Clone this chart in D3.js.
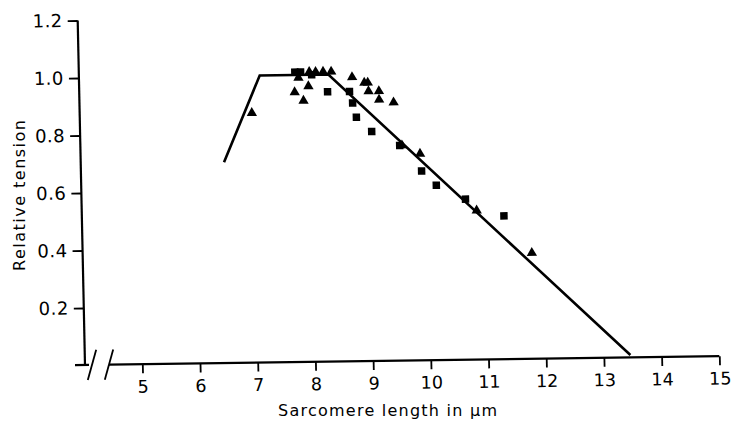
<!DOCTYPE html>
<html>
<head>
<meta charset="utf-8">
<script src="https://cdn.jsdelivr.net/npm/d3@7"></script>
<style>
  html, body { margin: 0; padding: 0; background: #fff; }
  svg { display: block; }
  text { font-family: "DejaVu Sans", "Open Sans", sans-serif; fill: #000; }
</style>
</head>
<body>
<svg id="chart" width="732" height="422"></svg>
<script>
// ---- data ----
const xTicks = [5, 6, 7, 8, 9, 10, 11, 12, 13, 14, 15];
const yTicks = [0.2, 0.4, 0.6, 0.8, 1.0, 1.2];
const yTickLabels = ["0.2", "0.4", "0.6", "0.8", "1.0", "1.2"];

// fitted line (length-tension relation)
const lineX = [6.49, 7.14, 8.33, 13.46];
const lineY = [0.70, 1.00, 1.00, 0.01];

// triangles
const triX = [6.99, 7.74, 7.89, 7.98, 7.81, 8.00, 8.11, 8.24, 8.38, 8.74, 8.95, 9.01, 9.02, 9.20, 9.20, 9.45, 9.58, 9.89, 10.85, 11.79];
const triY = [0.87, 0.94, 0.91, 0.96, 0.99, 1.01, 1.01, 1.01, 1.01, 0.99, 0.97, 0.97, 0.94, 0.94, 0.91, 0.90, 0.75, 0.72, 0.52, 0.37];

// squares
const sqX = [7.75, 7.85, 8.04, 8.31, 8.69, 8.74, 8.80, 9.06, 9.54, 9.91, 10.16, 10.66, 11.32];
const sqY = [1.01, 1.01, 1.00, 0.94, 0.94, 0.90, 0.85, 0.80, 0.75, 0.66, 0.61, 0.56, 0.50];

const xTitle = "Sarcomere  length in \u03BCm";
const yTitle = "Relative  tension";

// ---- layout ----
const svg = d3.select("#chart");
const ox = 85, oy = 365;           // axis corner
const x = d3.scaleLinear().domain([5, 15]).range([142.3, 719.3]);
const y = d3.scaleLinear().domain([0, 1.2]).range([365.5, 20.5]);

// the scanned figure is slightly skewed; reproduce with an affine transform
const sx = 0.0212, sy = -0.0139;
const g = svg.append("g")
  .attr("transform", `matrix(1,${sy},${sx},1,${-sx * oy},${-sy * ox})`);

// y axis
const yAxis = d3.axisLeft(y).tickValues(yTicks).tickSize(10).tickSizeOuter(0).tickPadding(5)
  .tickFormat((d, i) => yTickLabels[i]);
const gy = g.append("g").attr("transform", `translate(${ox},0)`).call(yAxis);
gy.select(".domain").attr("d", `M0,${oy}V${y(1.2)}`).attr("stroke", "#000").attr("stroke-width", 2.2);
gy.selectAll(".tick line").attr("stroke", "#000").attr("stroke-width", 1.8);
gy.selectAll(".tick text").style("font-size", "18px").attr("letter-spacing", "0.5").attr("fill", "#000");

// x axis
const xAxis = d3.axisBottom(x).tickValues(xTicks).tickSize(9).tickSizeOuter(0).tickPadding(7);
const gx = g.append("g").attr("transform", `translate(0,${oy})`).call(xAxis);
gx.select(".domain").remove();
gx.selectAll(".tick line").attr("stroke", "#000").attr("stroke-width", 1.8);
gx.selectAll(".tick text").style("font-size", "17.5px").attr("fill", "#000");

// x axis line with a break
const axisPieces = [[ox - 10, ox + 4], [ox + 24, x(15)]];
gx.selectAll("line.axisline").data(axisPieces).enter().append("line")
  .attr("class", "axisline")
  .attr("x1", d => d[0]).attr("x2", d => d[1])
  .attr("y1", 0).attr("y2", 0)
  .attr("stroke", "#000").attr("stroke-width", 2.2);
const breaks = [ox + 7, ox + 24];
gx.selectAll("line.brk").data(breaks).enter().append("line")
  .attr("class", "brk")
  .attr("x1", d => d + 4.5).attr("y1", -15)
  .attr("x2", d => d - 4.5).attr("y2", 15)
  .attr("stroke", "#000").attr("stroke-width", 1.8);

// fitted line
const pts = lineX.map((v, i) => [v, lineY[i]]);
g.append("path")
  .attr("d", d3.line().x(d => x(d[0])).y(d => y(d[1]))(pts))
  .attr("fill", "none").attr("stroke", "#000").attr("stroke-width", 2.6)
  .attr("stroke-linejoin", "miter");

// triangles
const tri = d3.symbol().type(d3.symbolTriangle).size(46);
g.selectAll("path.tri").data(triX.map((v, i) => [v, triY[i]])).enter().append("path")
  .attr("class", "tri")
  .attr("d", tri)
  .attr("transform", d => `translate(${x(d[0])},${y(d[1])})`)
  .attr("fill", "#000");

// squares
const sq = d3.symbol().type(d3.symbolSquare).size(56);
g.selectAll("path.sq").data(sqX.map((v, i) => [v, sqY[i]])).enter().append("path")
  .attr("class", "sq")
  .attr("d", sq)
  .attr("transform", d => `translate(${x(d[0])},${y(d[1])})`)
  .attr("fill", "#000");

// titles
svg.append("text")
  .attr("x", 278).attr("y", 416)
  .attr("textLength", 219).attr("lengthAdjust", "spacing")
  .style("font-size", "16px")
  .text(xTitle);

svg.append("text")
  .attr("transform", "translate(25,271) rotate(-90)")
  .attr("x", 0).attr("y", 0)
  .attr("textLength", 151).attr("lengthAdjust", "spacing")
  .style("font-size", "16px")
  .text(yTitle);
</script>
</body>
</html>
